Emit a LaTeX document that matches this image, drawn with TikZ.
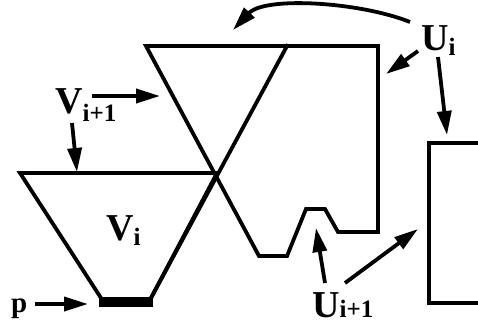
\documentclass[tikz,border=0pt]{standalone}
\usepackage{fontspec}
\setmainfont{Liberation Serif}
\usetikzlibrary{arrows.meta}

\newcommand{\sublbl}[3][0.25ex]{\textbf{#2}\raisebox{-#1}{\fontsize{25}{27}\selectfont\textbf{#3}}}

\begin{document}
\begin{tikzpicture}[
  x=1pt, y=-1pt,
  font=\fontsize{38}{42}\selectfont,
  edge/.style={line width=3.8pt, line join=miter, line cap=rect},
  arr/.style={-{Triangle[length=24pt,width=14pt]}, line width=3.8pt},
  lbl/.style={inner sep=0pt, anchor=base west}
]
\useasboundingbox (0,0) rectangle (478,327);

% upper region with the notch
\draw[edge] (146,46) -- (378,46) -- (378,232) -- (338,232) -- (325,209)
  -- (306,209) -- (287,256) -- (259,256) -- cycle;
\draw[edge] (287,46) -- (151,298);
% lower trapezoid
\draw[edge] (151,298) -- (217,173) -- (20,173) -- (101,298);
\fill (99,297) rectangle (153,307);
% right box, open to the right
\draw[edge] (478,143) -- (429,143) -- (429,303) -- (478,303);

% labels
\node[lbl] (ui) at (421,50) {\sublbl[0.3ex]{U}{i}};
\node[lbl] (uii) at (312,317) {\sublbl[0.05ex]{U}{i+1}};
\node[lbl] (vii) at (55,113) {\sublbl[0.5ex]{V}{i+1}};
\node[lbl] (vi) at (106,240) {\sublbl[0.3ex]{V}{i}};
\node[lbl, font=\fontsize{29}{31}\selectfont\bfseries] (p) at (11,312) {p};

% arrow ends
\coordinate (ui-a) at (410,22);
\coordinate (ui-b) at (418,51);
\coordinate (ui-c) at (438,57);
\coordinate (uii-a) at (325,283);
\coordinate (uii-b) at (345,283);
\coordinate (vii-a) at (92,96);
\coordinate (vii-b) at (72,123);
\coordinate (p-a) at (35,304);
\coordinate (top) at (233,30);
\coordinate (side) at (386,74);
\coordinate (box) at (447,135);
\coordinate (notch) at (316,228);
\coordinate (boxl) at (418,229);
\coordinate (tri) at (160,96);
\coordinate (trap) at (77,172);
\coordinate (bar) at (88,304);

\draw[arr] (ui-a) .. controls (360,2) and (265,-4) .. (top);
\draw[arr] (ui-b) -- (side);
\draw[arr] (ui-c) -- (box);
\draw[arr] (uii-a) -- (notch);
\draw[arr] (uii-b) -- (boxl);
\draw[arr] (vii-a) -- (tri);
\draw[arr] (vii-b) -- (trap);
\draw[arr] (p-a) -- (bar);
\end{tikzpicture}
\end{document}
